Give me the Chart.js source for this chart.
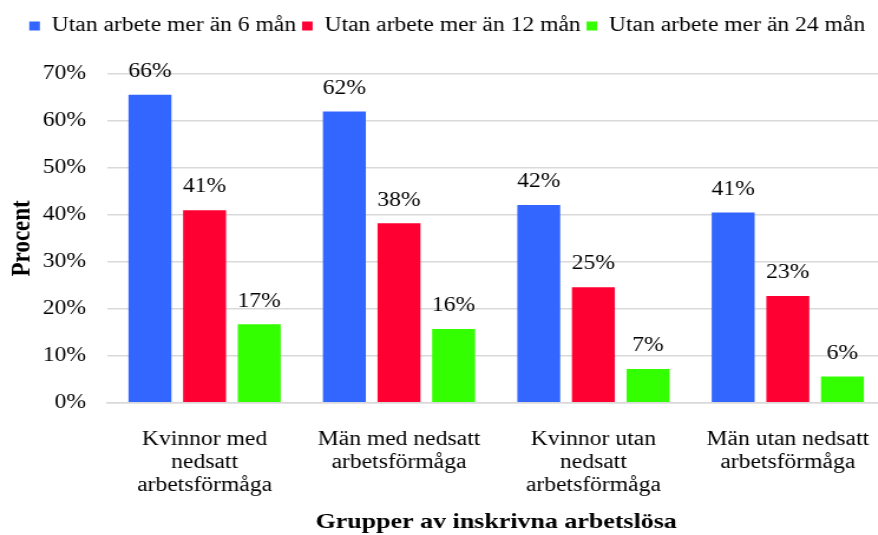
<!DOCTYPE html>
<html lang="sv">
<head>
<meta charset="utf-8">
<title>Utan arbete</title>
<script src="https://cdn.jsdelivr.net/npm/chart.js@4/dist/chart.umd.min.js"></script>
<style>
  html, body { margin: 0; padding: 0; background: #fff; overflow: hidden; }
  #wrap { width: 878px; height: 535px; overflow: hidden; }
  /* originalbilden är utdragen på bredden, så vi sträcker ut ritytan likadant */
  #inner { width: 756px; height: 545px; transform: scaleX(1.18); transform-origin: 0 0; }
</style>
</head>
<body>
<div id="wrap">
  <div id="inner">
    <canvas id="chart"></canvas>
  </div>
</div>
<script>
// Grupper (kategorier) på x-axeln, en rad per element
const grupper = [
  ['Kvinnor med', 'nedsatt', 'arbetsförmåga'],
  ['Män med nedsatt', 'arbetsförmåga'],
  ['Kvinnor utan', 'nedsatt', 'arbetsförmåga'],
  ['Män utan nedsatt', 'arbetsförmåga']
];

// Serier i procent
const serieNamn = ['Utan arbete mer än 6 mån', 'Utan arbete mer än 12 mån', 'Utan arbete mer än 24 mån'];
const mer6man = [65.6, 62.0, 42.1, 40.5];
const mer12man = [41.0, 38.2, 24.6, 22.7];
const mer24man = [16.7, 15.7, 7.2, 5.6];

// Y-axelns steg
const yMin = 0;
const yMax = 70;
const yStep = 10;

const farger = ['#3366ff', '#ff0033', '#33ff00'];
const typsnitt = '"Liberation Serif", "Times New Roman", serif';

// Skriver ut värdet ovanför varje stapel
const etiketter = {
  id: 'etiketter',
  afterDatasetsDraw(chart) {
    const ctx = chart.ctx;
    ctx.save();
    ctx.font = '20px ' + typsnitt;
    ctx.fillStyle = '#000';
    ctx.textAlign = 'center';
    ctx.textBaseline = 'middle';
    chart.data.datasets.forEach((ds, i) => {
      chart.getDatasetMeta(i).data.forEach((bar, j) => {
        ctx.fillText(Math.round(ds.data[j]) + '%', bar.x, bar.y - 23);
      });
    });
    ctx.restore();
  }
};

// Gör förklaringen högre så att diagrammet börjar längre ner
const hogForklaring = {
  id: 'hogForklaring',
  beforeInit(chart) {
    const fit = chart.legend.fit;
    chart.legend.fit = function () {
      fit.bind(chart.legend)();
      this.height = 63;
    };
  }
};

const serier = [mer6man, mer12man, mer24man];

new Chart(document.getElementById('chart').getContext('2d'), {
  type: 'bar',
  data: {
    labels: grupper,
    datasets: serier.map((data, i) => ({
      label: serieNamn[i],
      data: data,
      backgroundColor: farger[i],
      borderWidth: 0,
      categoryPercentage: 0.843,
      barPercentage: 0.786
    }))
  },
  options: {
    responsive: true,
    maintainAspectRatio: false,
    animation: false,
    layout: { padding: { left: 8, right: 6, top: 11, bottom: 0 } },
    plugins: {
      legend: {
        position: 'top',
        labels: {
          font: { family: typsnitt, size: 20 },
          color: '#000',
          boxWidth: 9,
          boxHeight: 9,
          padding: 5
        }
      },
      tooltip: { enabled: false }
    },
    scales: {
      x: {
        afterFit(scale) {
          scale.height = 142.3;
          scale.paddingLeft = 0;
          scale.paddingRight = 0;
        },
        grid: { display: false, drawTicks: false },
        border: { color: '#d9d9d9', width: 1.5 },
        ticks: {
          color: '#000',
          font: { family: typsnitt, size: 20, lineHeight: 1.17 },
          padding: 25,
          maxRotation: 0,
          autoSkip: false
        },
        title: {
          display: true,
          text: 'Grupper av inskrivna arbetslösa',
          color: '#000',
          font: { family: typsnitt, size: 22, weight: 'bold' },
          padding: { top: 0, bottom: 9 }
        }
      },
      y: {
        min: yMin,
        max: yMax,
        afterFit(scale) { scale.width = 83; },
        grid: { color: '#d9d9d9', lineWidth: 1.5, drawTicks: false },
        border: { display: false },
        ticks: {
          stepSize: yStep,
          color: '#000',
          font: { family: typsnitt, size: 20 },
          padding: 18,
          callback: v => v + '%'
        },
        title: {
          display: true,
          text: 'Procent',
          color: '#000',
          font: { family: typsnitt, size: 23, weight: 'bold', lineHeight: 0.92 },
          padding: { top: 0, bottom: 0 }
        }
      }
    }
  },
  plugins: [etiketter, hogForklaring]
});
</script>
</body>
</html>
